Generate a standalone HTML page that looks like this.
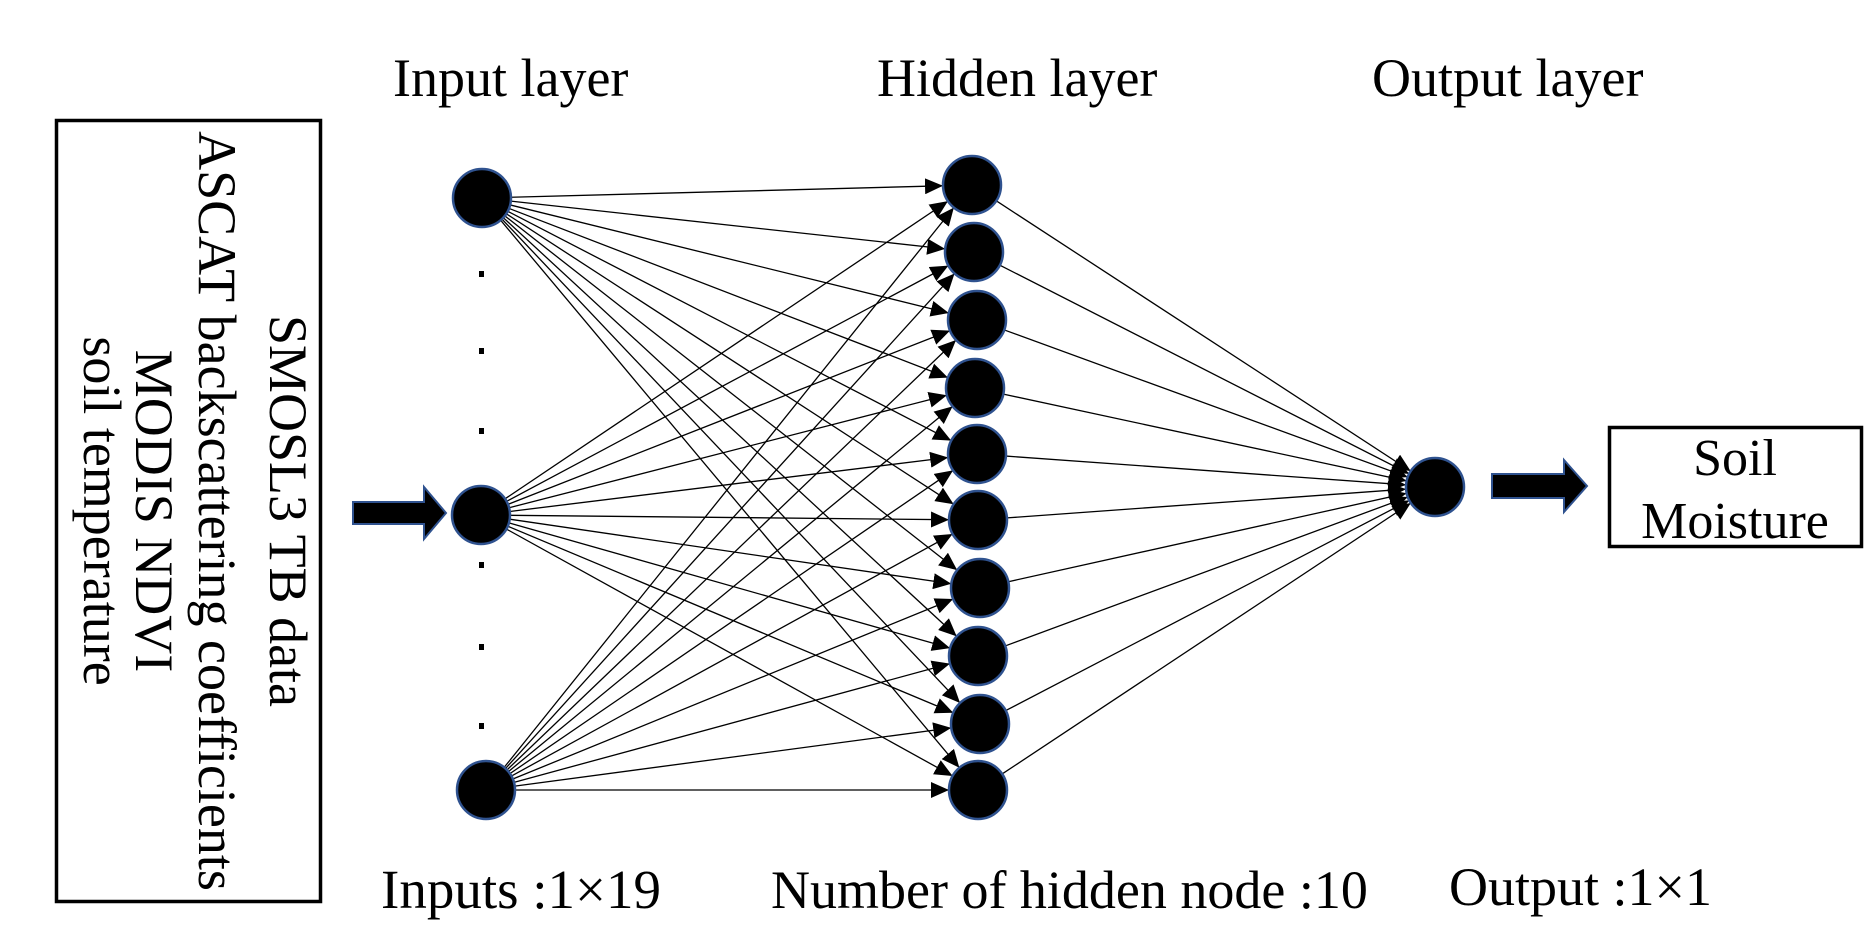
<!DOCTYPE html>
<html><head><meta charset="utf-8"><style>
html,body{margin:0;padding:0;background:#fff;}
svg{display:block;}
text{font-family:"Liberation Serif",serif;fill:#000;}
</style></head><body>
<svg id="s" width="1876" height="945" viewBox="0 0 1876 945" xmlns="http://www.w3.org/2000/svg">
<defs>
<marker id="ah" markerWidth="18" markerHeight="16" refX="17" refY="8" orient="auto" markerUnits="userSpaceOnUse">
<path d="M0,0 L18,8 L0,16 z" fill="#000"/>
</marker>
</defs>
<rect x="56.5" y="120.5" width="264" height="781" fill="none" stroke="#000" stroke-width="3.5"/>
<text font-size="54" transform="translate(270,511) rotate(90)" text-anchor="middle">SMOSL3 TB data</text>
<text font-size="54" transform="translate(199,511) rotate(90)" text-anchor="middle">ASCAT backscattering coefficients</text>
<text font-size="54" transform="translate(136,511) rotate(90)" text-anchor="middle">MODIS NDVI</text>
<text font-size="54" transform="translate(84,511) rotate(90)" text-anchor="middle">soil temperature</text>
<text font-size="54" x="393" y="96">Input layer</text>
<text font-size="54" x="877" y="96">Hidden layer</text>
<text font-size="54" x="1372" y="96">Output layer</text>
<text font-size="55" x="381" y="908">Inputs :1×19</text>
<text font-size="54" x="771" y="908">Number of hidden node :10</text>
<text font-size="54" x="1449" y="905">Output :1×1</text>
<rect x="1609.5" y="427.5" width="252" height="119" fill="none" stroke="#000" stroke-width="3.5"/>
<text font-size="52" x="1735" y="475" text-anchor="middle">Soil</text>
<text font-size="52" x="1735" y="538" text-anchor="middle">Moisture</text>
<path d="M353,502 L424,502 L424,487 L446,513 L424,539 L424,524 L353,524 z" fill="#000" stroke="#2f528f" stroke-width="2"/>
<path d="M1492,474 L1564,474 L1564,460 L1587,486 L1564,512 L1564,498 L1492,498 z" fill="#000" stroke="#2f528f" stroke-width="2"/>
<g id="lines" stroke="#000" stroke-width="1.3" fill="none"></g>
<g id="nodes" fill="#000" stroke="#2f528f" stroke-width="2.5"></g>
<g fill="#000">
<rect x="479" y="271" width="5" height="6"/><rect x="479" y="348" width="5" height="6"/><rect x="479" y="428" width="5" height="6"/>
<rect x="479" y="562" width="5" height="6"/><rect x="479" y="644" width="5" height="6"/><rect x="479" y="723" width="5" height="6"/>
</g>
</svg>
<script>
var NS="http://www.w3.org/2000/svg";
var inp=[[482,198],[481,515],[486,790]];
var hid=[[972,185],[974,252],[977,320],[975,388],[977,454],[978,520],[980,588],[978,656],[980,724],[978,790]];
var out=[1435,487];var r=29;
var L=document.getElementById("lines"),N=document.getElementById("nodes");
function line(x1,y1,x2,y2){var l=document.createElementNS(NS,"line");l.setAttribute("x1",x1);l.setAttribute("y1",y1);l.setAttribute("x2",x2);l.setAttribute("y2",y2);l.setAttribute("marker-end","url(#ah)");L.appendChild(l);}
function edge(a,b){var dx=b[0]-a[0],dy=b[1]-a[1],d=Math.sqrt(dx*dx+dy*dy);line(a[0]+dx/d*r,a[1]+dy/d*r,b[0]-dx/d*(r+1),b[1]-dy/d*(r+1));}
inp.forEach(function(a){hid.forEach(function(h){edge(a,h);});});
hid.forEach(function(h){edge(h,out);});
inp.concat(hid).concat([out]).forEach(function(p){var c=document.createElementNS(NS,"circle");c.setAttribute("cx",p[0]);c.setAttribute("cy",p[1]);c.setAttribute("r",r);N.appendChild(c);});
</script>
</body></html>
